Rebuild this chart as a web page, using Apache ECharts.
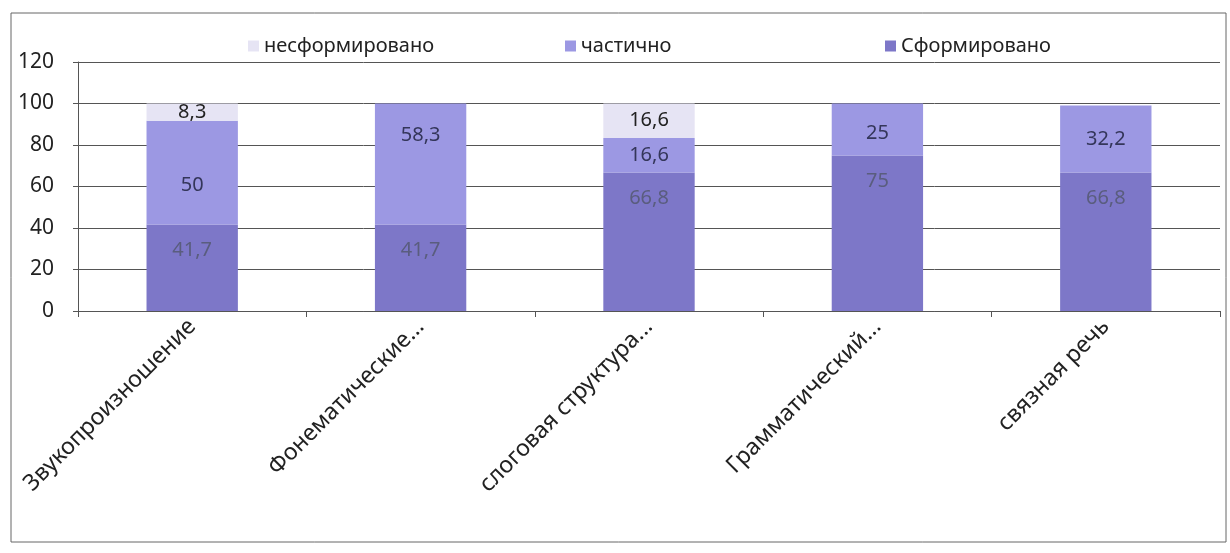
<!DOCTYPE html>
<html><head><meta charset="utf-8">
<script src="https://cdn.jsdelivr.net/npm/echarts@6/dist/echarts.min.js"></script>
<style>html,body{margin:0;padding:0;background:#fff}#c{width:1230px;height:553px}</style>
</head><body><div id="c"></div>
<script>
const categories = ['Звукопроизношение', 'Фонематические...', 'слоговая структура...', 'Грамматический...', 'связная речь'];
const formed = [41.7, 41.7, 66.8, 75, 66.8];
const partial = [50, 58.3, 16.6, 25, 32.2];
const unformed = [8.3, 0, 16.6, 0, 0];
const yTicks = [0, 20, 40, 60, 80, 100, 120];
const seriesNames = ['Сформировано', 'частично', 'несформировано'];

// label nudges (style only) for the "частично" labels, as placed in the original
const partialLabelShift = [13, -29, 0, 4, 0];

const FONT = 'Noto Sans';
const fmt = p => (p.value === 0 ? '' : String(p.value).replace('.', ','));
const chart = echarts.init(document.getElementById('c'));
const mkLegend = (name, left) => ({
  data: [name], left: left, top: 31, itemWidth: 11, itemHeight: 11, itemGap: 0,
  icon: 'rect', textStyle: { fontFamily: FONT, fontSize: 20, color: '#222' }
});
chart.setOption({
  animation: false,
  textStyle: { fontFamily: FONT },
  graphic: [{ type: 'rect', shape: { x: 11, y: 13, width: 1215, height: 529 },
    style: { fill: 'none', stroke: '#666', lineWidth: 1 }, silent: true, z: -1 }],
  legend: [mkLegend('несформировано', 243), mkLegend('частично', 560), mkLegend('Сформировано', 880)],
  grid: { left: 78, right: 10, top: 62, bottom: 242 },
  xAxis: {
    type: 'category', data: categories,
    axisLine: { lineStyle: { color: '#555' } },
    axisTick: { show: true, length: 6, lineStyle: { color: '#555' } },
    axisLabel: { rotate: 45, fontSize: 23, color: '#222', fontFamily: FONT, margin: 12, interval: 0 }
  },
  yAxis: {
    type: 'value', min: 0, max: 120, interval: 20,
    axisLine: { show: true, lineStyle: { color: '#555' } },
    axisTick: { show: true, length: 5, lineStyle: { color: '#555' } },
    axisLabel: { fontSize: 21, color: '#222', fontFamily: FONT, margin: 24,
      formatter: v => yTicks.includes(v) ? String(v) : '' },
    splitLine: { lineStyle: { color: '#555', width: 1 } }
  },
  series: [
    { name: seriesNames[0], type: 'bar', stack: 's', data: formed, barWidth: '40%',
      itemStyle: { color: '#7d77c8' },
      label: { show: true, position: 'insideTop', distance: 16, formatter: fmt, fontSize: 20,
        color: '#5a5d7e', fontFamily: FONT } },
    { name: seriesNames[1], type: 'bar', stack: 's', barWidth: '40%',
      data: partial.map((v, i) => ({ value: v, label: { offset: [0, partialLabelShift[i]] } })),
      itemStyle: { color: '#9c98e3' },
      label: { show: true, position: 'inside', formatter: fmt, fontSize: 20, color: '#34365a', fontFamily: FONT } },
    { name: seriesNames[2], type: 'bar', stack: 's', data: unformed, barWidth: '40%',
      itemStyle: { color: '#e6e4f4' },
      label: { show: true, position: 'inside', formatter: fmt, fontSize: 20, color: '#222', fontFamily: FONT } }
  ]
});
</script></body></html>
